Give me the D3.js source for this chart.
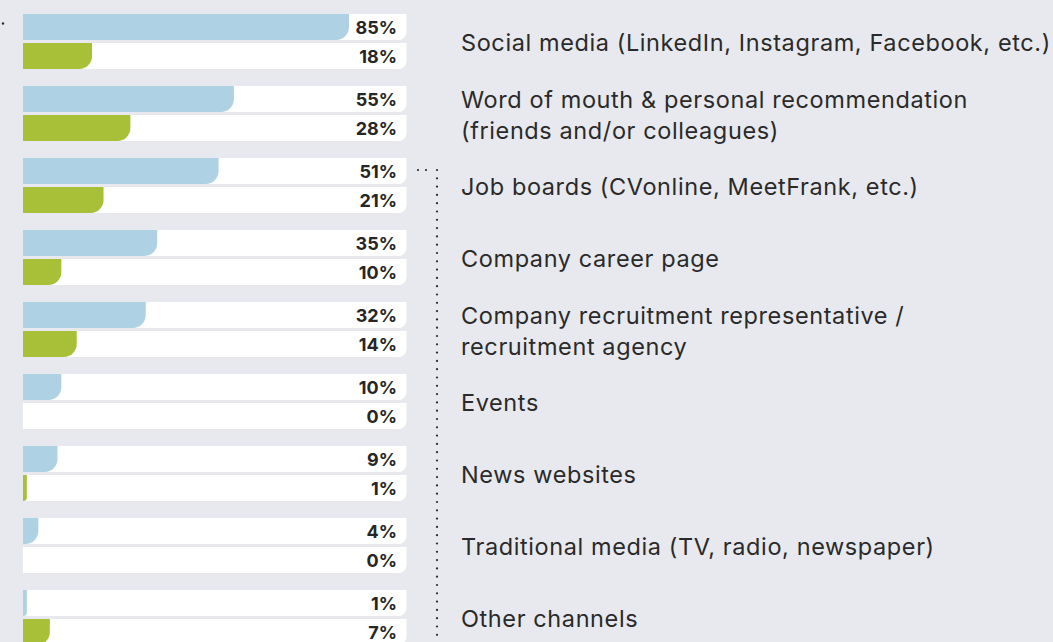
<!DOCTYPE html>
<html>
<head>
<meta charset="utf-8">
<script src="https://cdn.jsdelivr.net/npm/d3@7"></script>
<style>
  html, body { margin: 0; padding: 0; background: #e8e9ee; }
  svg { display: block; }
</style>
</head>
<body>
<svg id="chart" width="1053" height="642"></svg>
<script>
// Recruitment channels: share of respondents per channel, two series
const categories = [
  ["Social media (LinkedIn, Instagram, Facebook, etc.)"],
  ["Word of mouth & personal recommendation", "(friends and/or colleagues)"],
  ["Job boards (CVonline, MeetFrank, etc.)"],
  ["Company career page"],
  ["Company recruitment representative /", "recruitment agency"],
  ["Events"],
  ["News websites"],
  ["Traditional media (TV, radio, newspaper)"],
  ["Other channels"]
];
const seriesBlue  = [85, 55, 51, 35, 32, 10, 9, 4, 1];
const seriesGreen = [18, 28, 21, 10, 14, 0, 1, 0, 7];
const colors = { blue: "#aed1e3", green: "#a8bf38" };

const W = 1053, H = 642;
const svg = d3.select("#chart");

const barH = 26, barGap = 3, groupStep = 72, firstY = 14;
const x = d3.scaleLinear().domain([0, 100]).range([23, 406.5]);
const yGroup = d3.scaleLinear().domain([0, 1]).range([firstY, firstY + groupStep]);

// rectangle with only the bottom-right corner rounded
function roundedBR(x0, y0, w, h, r) {
  r = Math.max(0, Math.min(r, w, h));
  return `M${x0},${y0}H${x0 + w}V${y0 + h - r}` +
         (r > 0 ? `A${r},${r} 0 0 1 ${x0 + w - r},${y0 + h}` : "") +
         `H${x0}Z`;
}

const rows = [];
categories.forEach((c, i) => {
  rows.push({ g: i, k: 0, s: "blue",  v: seriesBlue[i] });
  rows.push({ g: i, k: 1, s: "green", v: seriesGreen[i] });
});
const rowY = d => yGroup(d.g) + d.k * (barH + barGap);

// white tracks
svg.append("g").selectAll("path").data(rows).join("path")
  .attr("d", d => roundedBR(x(0), rowY(d), x(100) - x(0), barH, 8))
  .attr("fill", "#ffffff");

// bars
svg.append("g").selectAll("path").data(rows.filter(d => d.v > 0)).join("path")
  .attr("d", d => roundedBR(x(0), rowY(d), x(d.v) - x(0), barH, 13))
  .attr("fill", d => colors[d.s]);

// value labels
svg.append("g").selectAll("text").data(rows).join("text")
  .attr("x", 397)
  .attr("y", d => rowY(d) + barH / 2)
  .attr("text-anchor", "end")
  .attr("dominant-baseline", "central")
  .attr("font-family", "Inter, 'DejaVu Sans', sans-serif")
  .attr("font-weight", 700)
  .attr("font-size", 18)
  .attr("fill", "#262626")
  .text(d => d.v + "%");

// category labels
const lineH = 31;
const labelG = svg.append("g");
categories.forEach((lines, i) => {
  const cy = yGroup(i) + barH + barGap / 2 + 0.5;
  const t = labelG.append("text")
    .attr("x", 461)
    .attr("font-family", "Inter, 'DejaVu Sans', sans-serif")
    .attr("font-size", 23.5)
    .attr("letter-spacing", 0.6)
    .attr("fill", "#2a2a2a")
    .attr("dominant-baseline", "central");
  lines.forEach((ln, j) => {
    t.append("tspan")
      .attr("x", 461)
      .attr("y", cy + (j - (lines.length - 1) / 2) * lineH)
      .text(ln);
  });
});

// dotted guide lines
const dots = svg.append("g").attr("fill", "#2a2a2a");
const vx = 437, vy0 = 170;
d3.range(vy0, H + 4, 8.3).forEach(yy => dots.append("circle").attr("cx", vx).attr("cy", yy).attr("r", 1.1));
[418, 426].forEach(xx => dots.append("circle").attr("cx", xx).attr("cy", vy0).attr("r", 1.1));
dots.append("circle").attr("cx", 3).attr("cy", 23.5).attr("r", 1.2);
</script>
</body>
</html>
